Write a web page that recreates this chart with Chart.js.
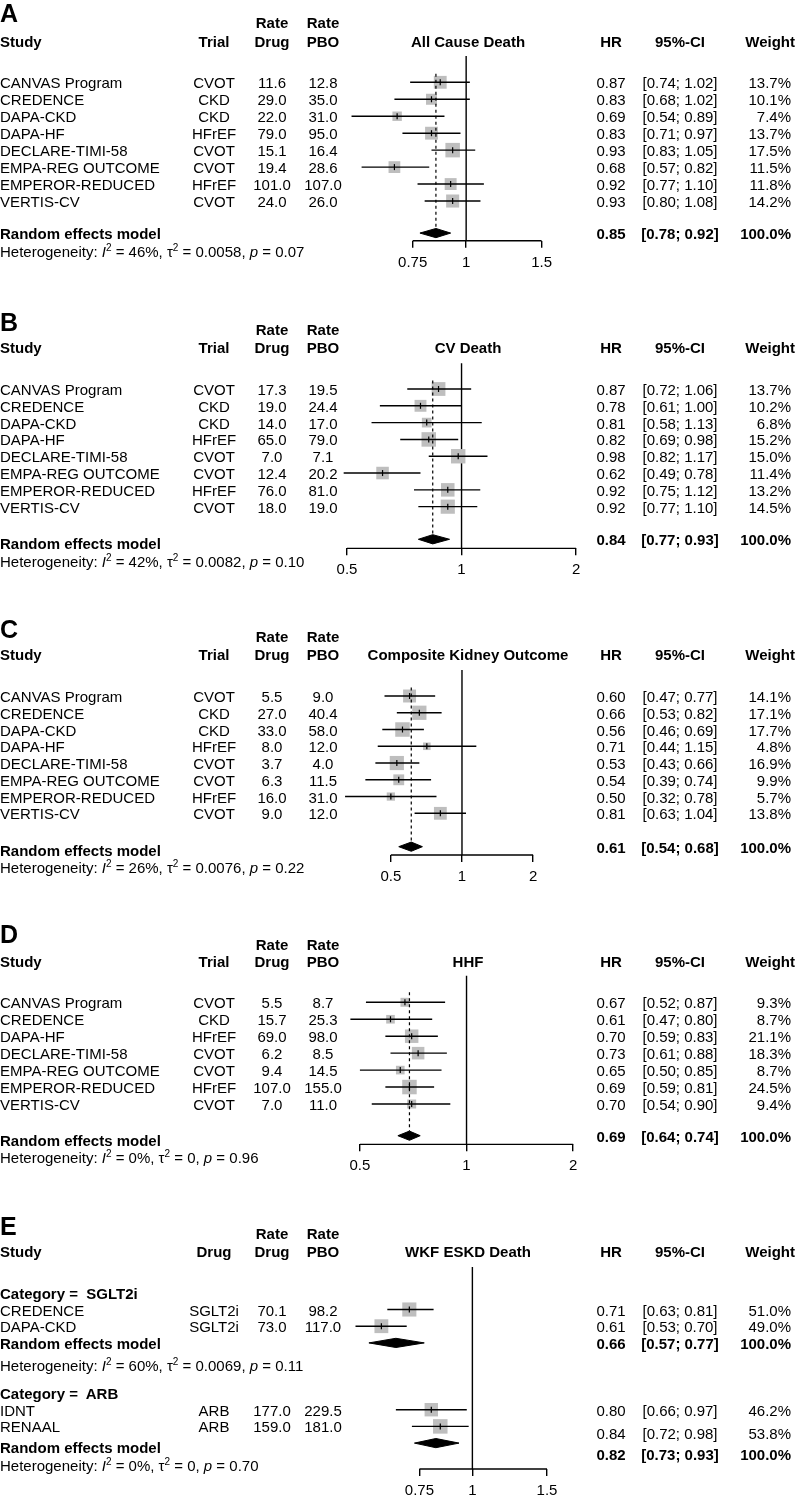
<!DOCTYPE html>
<html><head><meta charset="utf-8">
<script src="https://cdn.jsdelivr.net/npm/chart.js@4.4.1/dist/chart.umd.min.js"></script>
<style>
html,body{margin:0;padding:0;background:#fff;overflow:hidden;}
#page{position:relative;width:795px;height:1499px;font-family:"Liberation Sans",Arial,Helvetica,sans-serif;font-size:15px;color:#000;}
canvas{position:absolute;left:0;}
.t{position:absolute;white-space:pre;line-height:15px;transform:translateY(-50%);}
.t.c{transform:translate(-50%,-50%);}
.b{font-weight:bold;}
.lab{font-size:25px;font-weight:bold;line-height:25px;}
sup{font-size:10px;line-height:0;vertical-align:6px;}
</style></head><body><div id="page"></div>
<script>
// ================= DATA =================
const NULL_EFFECT = 1;

// ---- Panel A: All Cause Death ----
const aStudies = ["CANVAS Program","CREDENCE","DAPA-CKD","DAPA-HF","DECLARE-TIMI-58","EMPA-REG OUTCOME","EMPEROR-REDUCED","VERTIS-CV"];
const aTrials = ["CVOT","CKD","CKD","HFrEF","CVOT","CVOT","HFrEF","CVOT"];
const aRateDrug = [11.6,29.0,22.0,79.0,15.1,19.4,101.0,24.0];
const aRatePBO = [12.8,35.0,31.0,95.0,16.4,28.6,107.0,26.0];
const aHR = [0.87,0.83,0.69,0.83,0.93,0.68,0.92,0.93];
const aLo = [0.74,0.68,0.54,0.71,0.83,0.57,0.77,0.80];
const aHi = [1.02,1.02,0.89,0.97,1.05,0.82,1.10,1.08];
const aWeight = [13.7,10.1,7.4,13.7,17.5,11.5,11.8,14.2];
const aSummary = [0.85,0.78,0.92];
const aHet = ["46%","0.0058","0.07"];
const aTicks = [0.75,1,1.5];

// ---- Panel B: CV Death ----
const bStudies = aStudies;
const bTrials = aTrials;
const bRateDrug = [17.3,19.0,14.0,65.0,7.0,12.4,76.0,18.0];
const bRatePBO = [19.5,24.4,17.0,79.0,7.1,20.2,81.0,19.0];
const bHR = [0.87,0.78,0.81,0.82,0.98,0.62,0.92,0.92];
const bLo = [0.72,0.61,0.58,0.69,0.82,0.49,0.75,0.77];
const bHi = [1.06,1.00,1.13,0.98,1.17,0.78,1.12,1.10];
const bWeight = [13.7,10.2,6.8,15.2,15.0,11.4,13.2,14.5];
const bSummary = [0.84,0.77,0.93];
const bHet = ["42%","0.0082","0.10"];
const bTicks = [0.5,1,2];

// ---- Panel C: Composite Kidney Outcome ----
const cStudies = aStudies;
const cTrials = aTrials;
const cRateDrug = [5.5,27.0,33.0,8.0,3.7,6.3,16.0,9.0];
const cRatePBO = [9.0,40.4,58.0,12.0,4.0,11.5,31.0,12.0];
const cHR = [0.60,0.66,0.56,0.71,0.53,0.54,0.50,0.81];
const cLo = [0.47,0.53,0.46,0.44,0.43,0.39,0.32,0.63];
const cHi = [0.77,0.82,0.69,1.15,0.66,0.74,0.78,1.04];
const cWeight = [14.1,17.1,17.7,4.8,16.9,9.9,5.7,13.8];
const cSummary = [0.61,0.54,0.68];
const cHet = ["26%","0.0076","0.22"];
const cTicks = [0.5,1,2];

// ---- Panel D: HHF ----
const dStudies = ["CANVAS Program","CREDENCE","DAPA-HF","DECLARE-TIMI-58","EMPA-REG OUTCOME","EMPEROR-REDUCED","VERTIS-CV"];
const dTrials = ["CVOT","CKD","HFrEF","CVOT","CVOT","HFrEF","CVOT"];
const dRateDrug = [5.5,15.7,69.0,6.2,9.4,107.0,7.0];
const dRatePBO = [8.7,25.3,98.0,8.5,14.5,155.0,11.0];
const dHR = [0.67,0.61,0.70,0.73,0.65,0.69,0.70];
const dLo = [0.52,0.47,0.59,0.61,0.50,0.59,0.54];
const dHi = [0.87,0.80,0.83,0.88,0.85,0.81,0.90];
const dWeight = [9.3,8.7,21.1,18.3,8.7,24.5,9.4];
const dSummary = [0.69,0.64,0.74];
const dHet = ["0%","0","0.96"];
const dTicks = [0.5,1,2];

// ---- Panel E: WKF ESKD Death (subgroups) ----
const e1Category = "SGLT2i";
const e1Studies = ["CREDENCE","DAPA-CKD"];
const e1Drugs = ["SGLT2i","SGLT2i"];
const e1RateDrug = [70.1,73.0];
const e1RatePBO = [98.2,117.0];
const e1HR = [0.71,0.61];
const e1Lo = [0.63,0.53];
const e1Hi = [0.81,0.70];
const e1Weight = [51.0,49.0];
const e1Summary = [0.66,0.57,0.77];
const e1Het = ["60%","0.0069","0.11"];

const e2Category = "ARB";
const e2Studies = ["IDNT","RENAAL"];
const e2Drugs = ["ARB","ARB"];
const e2RateDrug = [177.0,159.0];
const e2RatePBO = [229.5,181.0];
const e2HR = [0.80,0.84];
const e2Lo = [0.66,0.72];
const e2Hi = [0.97,0.98];
const e2Weight = [46.2,53.8];
const e2Summary = [0.82,0.73,0.93];
const e2Het = ["0%","0","0.70"];
const eTicks = [0.75,1,1.5];

// ================= LAYOUT / STYLE =================
const PAGE_W = 795;
const FONT = '"Liberation Sans", Arial, Helvetica, sans-serif';
const SQ_MAX = 14.5;          // px side of the largest square
const DIAMOND_HALF_PX = 4.6;
const SQUARE_COLOR = '#bebebe';
const COL = {study:0, trial:214, drug:272, pbo:323, title:468, hr:611, ci:680, w:791, wh:795};

function grp(category, studies, trials, rateDrug, ratePBO, hr, lo, hi, weight, summary, het) {
  return {category, studies, trials, rateDrug, ratePBO, hr, lo, hi, weight, summary, het};
}

const panels = [
  { label:'A', title:'All Cause Death', colHeader:'Trial', ticks:aTicks, axisPx:[413,545], dotted:true,
    groups:[grp(null,aStudies,aTrials,aRateDrug,aRatePBO,aHR,aLo,aHi,aWeight,aSummary,aHet)],
    L:{top:0, y0:82.3, dy:16.96, vTopRow:-1.55, axisRow:9.34, labelRow:-4.09, rateRow:-3.54, headRow:-2.45, dotTopRow:-0.5,
       g:[{studyL:[0,1,2,3,4,5,6,7], studyR:[0,1,2,3,4,5,6,7], diamond:8.89, remL:8.9, remR:8.9, het:9.93}]}},
  { label:'B', title:'CV Death', colHeader:'Trial', ticks:bTicks, axisPx:[345.7,580.7], dotted:true,
    groups:[grp(null,bStudies,bTrials,bRateDrug,bRatePBO,bHR,bLo,bHi,bWeight,bSummary,bHet)],
    L:{top:305, y0:389, dy:16.81, vTopRow:-1.53, axisRow:9.48, labelRow:-3.99, rateRow:-3.55, headRow:-2.48, dotTopRow:-0.5,
       g:[{studyL:[0,1,2,3,4,5,6,7], studyR:[0,1,2,3,4,5,6,7], diamond:8.94, remL:9.18, remR:8.94, het:10.21}]}},
  { label:'C', title:'Composite Kidney Outcome', colHeader:'Trial', ticks:cTicks, axisPx:[390.7,536.3], dotted:true,
    groups:[grp(null,cStudies,cTrials,cRateDrug,cRatePBO,cHR,cLo,cHi,cWeight,cSummary,cHet)],
    L:{top:612, y0:696, dy:16.76, vTopRow:-1.55, axisRow:9.49, labelRow:-4.0, rateRow:-3.58, headRow:-2.49, dotTopRow:-0.5,
       g:[{studyL:[0,1,2,3,4,5,6,7], studyR:[0,1,2,3,4,5,6,7], diamond:8.99, remL:9.19, remR:8.99, het:10.22}]}},
  { label:'D', title:'HHF', colHeader:'Trial', ticks:dTicks, axisPx:[359.3,576], dotted:true,
    groups:[grp(null,dStudies,dTrials,dRateDrug,dRatePBO,dHR,dLo,dHi,dWeight,dSummary,dHet)],
    L:{top:920, y0:1002.3, dy:16.95, vTopRow:-1.57, axisRow:8.38, labelRow:-4.03, rateRow:-3.44, headRow:-2.44, dotTopRow:-0.6,
       g:[{studyL:[0,1,2,3,4,5,6], studyR:[0,1,2,3,4,5,6], diamond:7.87, remL:8.12, remR:7.87, het:9.11}]}},
  { label:'E', title:'WKF ESKD Death', colHeader:'Drug', ticks:eTicks, axisPx:[420,551], dotted:false,
    groups:[grp(e1Category,e1Studies,e1Drugs,e1RateDrug,e1RatePBO,e1HR,e1Lo,e1Hi,e1Weight,e1Summary,e1Het),
            grp(e2Category,e2Studies,e2Drugs,e2RateDrug,e2RatePBO,e2HR,e2Lo,e2Hi,e2Weight,e2Summary,e2Het)],
    L:{top:1208, y0:1309.5, dy:16.7, vTopRow:-2.54, axisRow:9.55, labelRow:-5.0, rateRow:-4.58, headRow:-3.5,
       g:[{cat:-1, studyL:[0,1], studyR:[0,1], diamond:2, remL:2, remR:2, het:3.32},
          {cat:5, studyL:[6,7], studyR:[6,7.37], diamond:8, remL:8.25, remR:8.65, het:9.33}]}}
];

// ================= RENDER =================
const page = document.getElementById('page');

function addText(html, x, y, align, cls) {
  const d = document.createElement('div');
  d.className = 't' + (cls ? ' ' + cls : '');
  d.innerHTML = html;
  if (align === 'l') d.style.left = x + 'px';
  else if (align === 'c') { d.style.left = x + 'px'; d.classList.add('c'); }
  else d.style.right = (PAGE_W - x) + 'px';
  d.style.top = y + 'px';
  page.appendChild(d);
}
const f1 = v => v.toFixed(1);
const f2 = v => v.toFixed(2);

function buildPanel(P) {
  const L = P.L;
  const lg = Math.log10;
  const t0 = P.ticks[0], t1 = P.ticks[P.ticks.length - 1];
  const pxPerDec = (P.axisPx[1] - P.axisPx[0]) / (lg(t1) - lg(t0));
  const xmin = Math.pow(10, lg(t0) - P.axisPx[0] / pxPerDec);
  const xmax = Math.pow(10, lg(t1) + (PAGE_W - P.axisPx[1]) / pxPerDec);
  const padTop = L.y0 + L.vTopRow * L.dy - L.top;
  const plotBottom = L.y0 + L.axisRow * L.dy - L.top;
  const height = Math.ceil(plotBottom + 30);
  const axisH = height - plotBottom;
  const dh = DIAMOND_HALF_PX / L.dy;

  const canvas = document.createElement('canvas');
  canvas.width = PAGE_W; canvas.height = height;
  canvas.style.top = L.top + 'px';
  canvas.style.width = PAGE_W + 'px'; canvas.style.height = height + 'px';
  page.appendChild(canvas);

  let wmax = 0;
  P.groups.forEach(g => g.weight.forEach(w => { wmax = Math.max(wmax, w); }));

  const lineBase = {type:'line', borderColor:'#000', pointRadius:0, fill:false, clip:false, tension:0};
  const ds = [];
  // reference line at null effect
  ds.push(Object.assign({}, lineBase, {data:[{x:NULL_EFFECT, y:L.vTopRow}, {x:NULL_EFFECT, y:L.axisRow}], borderWidth:1.4, order:30}));
  // axis line between first and last tick
  ds.push(Object.assign({}, lineBase, {data:[{x:t0, y:L.axisRow}, {x:t1, y:L.axisRow}], borderWidth:1.4, order:30}));

  P.groups.forEach((g, gi) => {
    const R = L.g[gi];
    if (P.dotted) {
      ds.push(Object.assign({}, lineBase, {data:[{x:g.summary[0], y:L.dotTopRow}, {x:g.summary[0], y:R.diamond - dh}],
        borderWidth:1.2, borderDash:[3,3], order:15}));
    }
    const pts = g.hr.map((v, i) => ({x:v, y:R.studyL[i]}));
    // squares
    ds.push(Object.assign({}, lineBase, {data:pts, showLine:false, pointStyle:'rect',
      pointRadius:g.weight.map(w => SQ_MAX * Math.sqrt(w / wmax) / Math.SQRT2),
      pointBackgroundColor:SQUARE_COLOR, pointBorderWidth:0, order:20}));
    // confidence intervals
    g.hr.forEach((v, i) => {
      ds.push(Object.assign({}, lineBase, {data:[{x:g.lo[i], y:R.studyL[i]}, {x:g.hi[i], y:R.studyL[i]}], borderWidth:1.4, order:10}));
    });
    // estimate tick
    ds.push(Object.assign({}, lineBase, {data:pts, showLine:false, pointStyle:'line', pointRotation:90,
      pointRadius:3, pointBorderColor:'#000', pointBorderWidth:1.2, order:5}));
    // summary diamond
    const [est, lo, hi] = g.summary;
    const r = R.diamond;
    ds.push(Object.assign({}, lineBase, {data:[{x:lo,y:r},{x:est,y:r-dh},{x:hi,y:r},{x:est,y:r+dh},{x:lo,y:r}],
      fill:'shape', backgroundColor:'#000', borderWidth:1, order:4}));
  });

  const chart = new Chart(canvas, {
    type:'line',
    data:{datasets:ds},
    options:{
      responsive:false, animation:false, events:[], devicePixelRatio:1,
      layout:{padding:{left:0, right:0, top:padTop, bottom:0}},
      plugins:{legend:{display:false}, tooltip:{enabled:false}, title:{display:false}},
      scales:{
        x:{type:'logarithmic', position:'bottom', min:xmin, max:xmax, bounds:'data', offset:false,
           afterBuildTicks:s => { s.ticks = P.ticks.map(v => ({value:v})); },
           afterFit:s => { s.height = axisH; },
           ticks:{autoSkip:false, maxRotation:0, minRotation:0, padding:6, color:'#000',
                  font:{family:FONT, size:15}, callback:v => String(v)},
           grid:{display:true, drawOnChartArea:false, drawTicks:true, tickLength:7, color:'#000', lineWidth:1.4},
           border:{display:false}},
        y:{type:'linear', display:false, min:L.vTopRow, max:L.axisRow, reverse:true, bounds:'data'}
      }
    }
  });

  const Y = row => L.top + chart.scales.y.getPixelForValue(row);

  // panel letter and headers
  addText(P.label, 0, Y(L.labelRow), 'l', 'lab');
  addText('Rate', COL.drug, Y(L.rateRow), 'c', 'b');
  addText('Rate', COL.pbo, Y(L.rateRow), 'c', 'b');
  const hy = Y(L.headRow);
  addText('Study', COL.study, hy, 'l', 'b');
  addText(P.colHeader, COL.trial, hy, 'c', 'b');
  addText('Drug', COL.drug, hy, 'c', 'b');
  addText('PBO', COL.pbo, hy, 'c', 'b');
  addText(P.title, COL.title, hy, 'c', 'b');
  addText('HR', COL.hr, hy, 'c', 'b');
  addText('95%-CI', COL.ci, hy, 'c', 'b');
  addText('Weight', COL.wh, hy, 'r', 'b');

  P.groups.forEach((g, gi) => {
    const R = L.g[gi];
    if (g.category) addText('Category =  ' + g.category, COL.study, Y(R.cat), 'l', 'b');
    g.studies.forEach((s, i) => {
      const yl = Y(R.studyL[i]), yr = Y(R.studyR[i]);
      addText(s, COL.study, yl, 'l');
      addText(g.trials[i], COL.trial, yl, 'c');
      addText(f1(g.rateDrug[i]), COL.drug, yl, 'c');
      addText(f1(g.ratePBO[i]), COL.pbo, yl, 'c');
      addText(f2(g.hr[i]), COL.hr, yr, 'c');
      addText('[' + f2(g.lo[i]) + '; ' + f2(g.hi[i]) + ']', COL.ci, yr, 'c');
      addText(f1(g.weight[i]) + '%', COL.w, yr, 'r');
    });
    addText('Random effects model', COL.study, Y(R.remL), 'l', 'b');
    const ys = Y(R.remR);
    addText(f2(g.summary[0]), COL.hr, ys, 'c', 'b');
    addText('[' + f2(g.summary[1]) + '; ' + f2(g.summary[2]) + ']', COL.ci, ys, 'c', 'b');
    addText('100.0%', COL.w, ys, 'r', 'b');
    addText('Heterogeneity: <i>I</i><sup>2</sup> = ' + g.het[0] + ', \u03c4<sup>2</sup> = ' + g.het[1] + ', <i>p</i> = ' + g.het[2],
      COL.study, Y(R.het), 'l');
  });
}

panels.forEach(buildPanel);
</script>
</body></html>
